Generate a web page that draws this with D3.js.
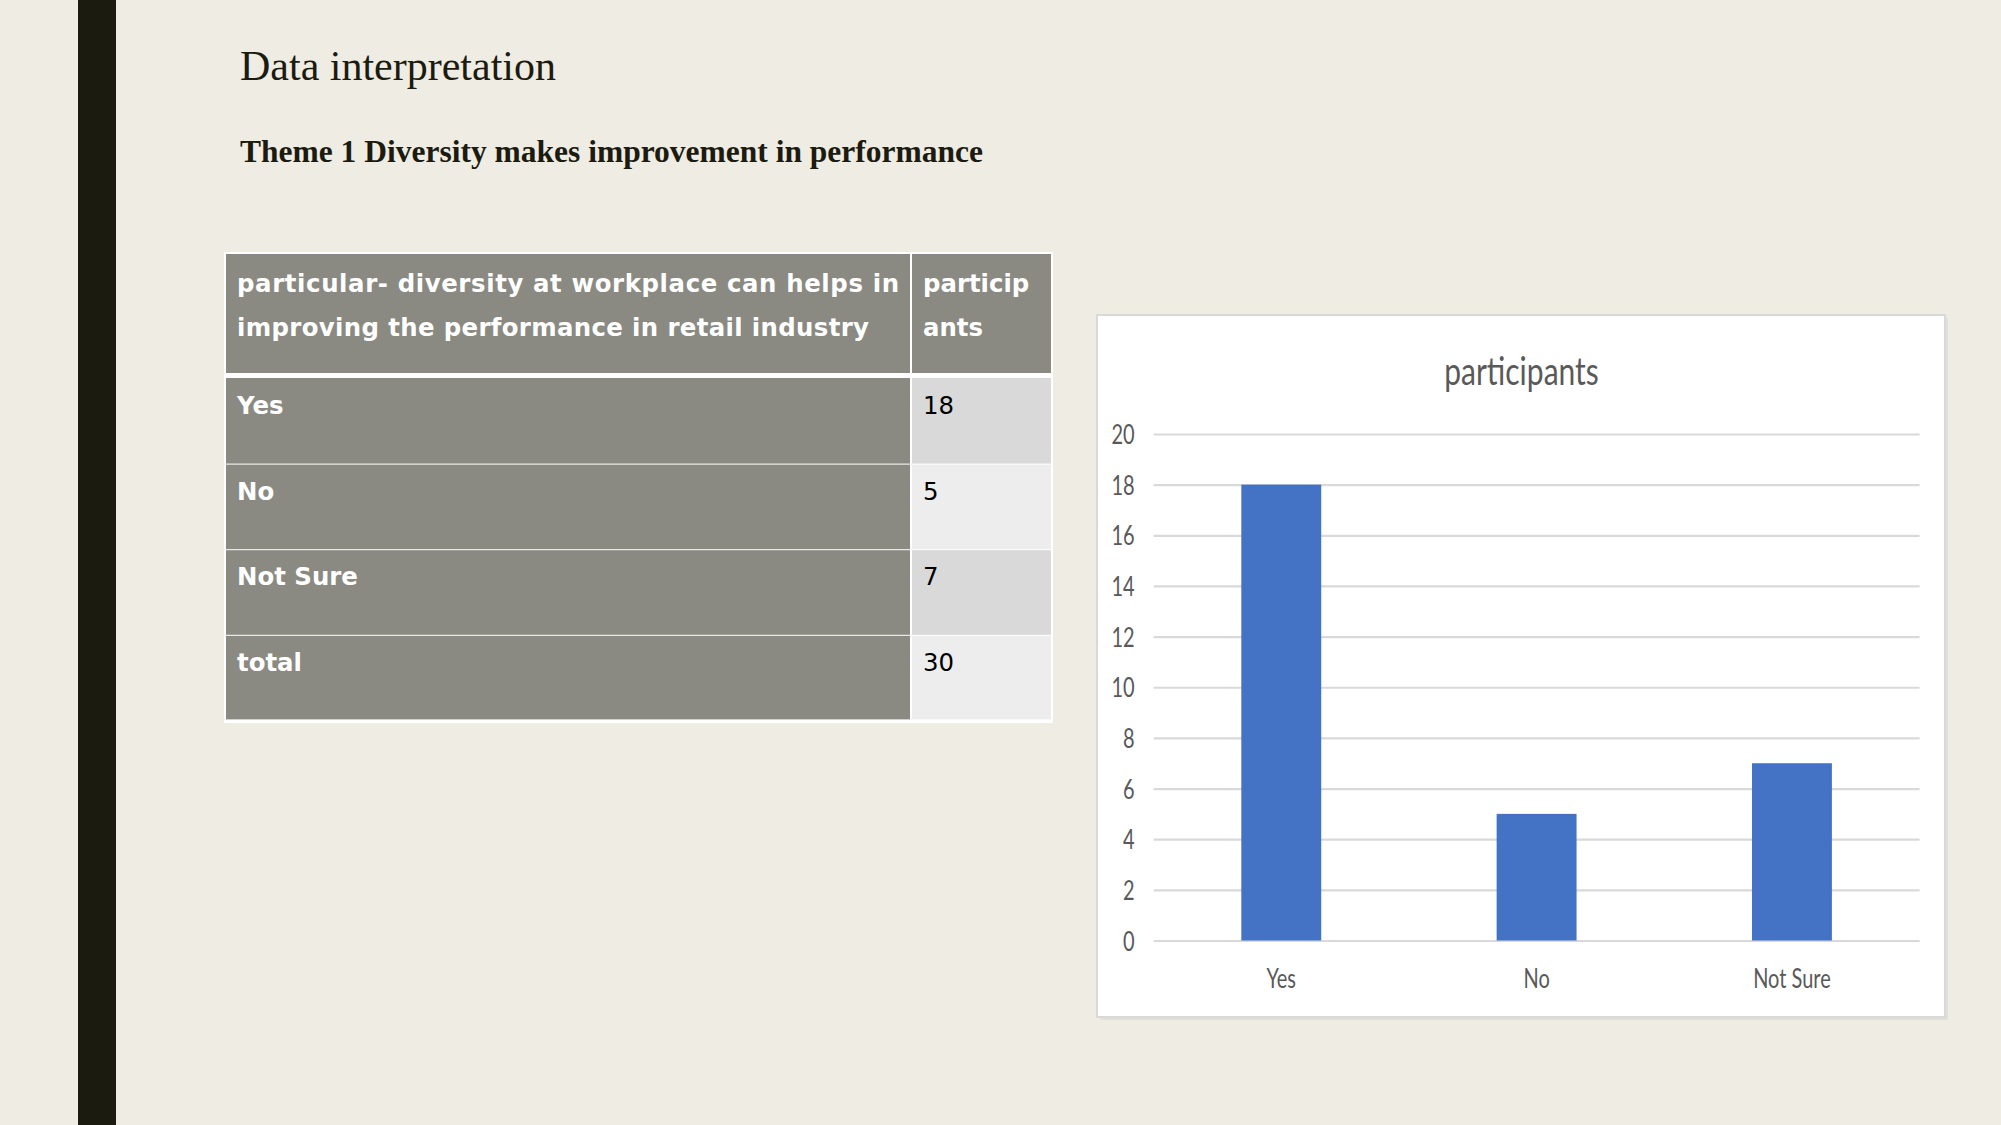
<!DOCTYPE html>
<html><head><meta charset="utf-8">
<script src="https://cdn.jsdelivr.net/npm/d3@7"></script>
<style>html,body{margin:0;padding:0;background:#efece4;overflow:hidden} svg{display:block}</style>
</head><body>
<svg id="c" width="2001" height="1125"></svg>
<script>
// ---- data ----
const categories = ["Yes", "No", "Not Sure"];
const participants = [18, 5, 7];
const yTickValues = [0, 2, 4, 6, 8, 10, 12, 14, 16, 18, 20];
const chartTitle = "participants";
const tableLabels = ["Yes", "No", "Not Sure", "total"];
const tableValues = [18, 5, 7, 30];
const headerLines = ["particular- diversity at workplace can helps in", "improving the performance in retail industry"];
const headerValueLines = ["particip", "ants"];
const slideTitle = "Data interpretation";
const slideSubtitle = "Theme 1 Diversity makes improvement in performance";

const svg = d3.select("#c");
svg.append("rect").attr("width", 2001).attr("height", 1125).attr("fill", "#efece4");
svg.append("rect").attr("x", 78).attr("y", 0).attr("width", 38).attr("height", 1125).attr("fill", "#1c1b10");

svg.append("text").attr("x", 240).attr("y", 80)
  .attr("font-family", "'Liberation Serif','Times New Roman',serif").attr("font-size", 43)
  .attr("fill", "#1c1b10").attr("textLength", 316).attr("lengthAdjust", "spacingAndGlyphs").text(slideTitle);
svg.append("text").attr("x", 240).attr("y", 162)
  .attr("font-family", "'Liberation Serif','Times New Roman',serif").attr("font-size", 32).attr("font-weight", "bold")
  .attr("fill", "#1c1b10").attr("textLength", 743).attr("lengthAdjust", "spacingAndGlyphs").text(slideSubtitle);

// ---- table ----
const T = {x0: 226, x1: 910, x2: 912, x3: 1051, top: 254, headBottom: 373, rowTop: 378, rowH: 85.6};
const FS = 24.4;
const tg = svg.append("g");
tg.append("rect").attr("x", T.x0 - 2).attr("y", T.top - 2).attr("width", T.x3 - T.x0 + 4).attr("height", 721 - T.top + 4).attr("fill", "#ffffff");
tg.append("rect").attr("x", T.x0).attr("y", T.top).attr("width", T.x1 - T.x0).attr("height", T.headBottom - T.top).attr("fill", "#8a8a83");
tg.append("rect").attr("x", T.x2).attr("y", T.top).attr("width", T.x3 - T.x2).attr("height", T.headBottom - T.top).attr("fill", "#8a8a83");
const font = "'DejaVu Sans', Verdana, sans-serif";
headerLines.forEach((l, i) => {
  tg.append("text").attr("x", 237).attr("y", 292 + i * 44).attr("font-family", font).attr("font-weight", "bold")
    .attr("font-size", FS).attr("fill", "#ffffff")
    .attr("textLength", i === 0 ? 662 : 632).attr("lengthAdjust", "spacing").text(l);
});
headerValueLines.forEach((l, i) => {
  tg.append("text").attr("x", 923).attr("y", 292 + i * 44).attr("font-family", font).attr("font-weight", "bold")
    .attr("font-size", FS).attr("fill", "#ffffff").text(l);
});
const rows = tg.selectAll("g.row").data(tableLabels.map((l, i) => ({l, v: tableValues[i], i})))
  .join("g").attr("class", "row");
rows.append("rect").attr("x", T.x0).attr("y", d => T.rowTop + d.i * T.rowH + (d.i ? 1 : 0))
  .attr("width", T.x1 - T.x0).attr("height", d => T.rowH - (d.i ? 1 : 0) - (d.i === 3 ? 1 : 0)).attr("fill", "#8a8a83");
rows.append("rect").attr("x", T.x2).attr("y", d => T.rowTop + d.i * T.rowH + (d.i ? 1 : 0))
  .attr("width", T.x3 - T.x2).attr("height", d => T.rowH - (d.i ? 1 : 0) - (d.i === 3 ? 1 : 0))
  .attr("fill", d => d.i % 2 === 0 ? "#d9d9d9" : "#ededed");
rows.append("text").attr("x", 237).attr("y", d => T.rowTop + d.i * T.rowH + 36)
  .attr("font-family", font).attr("font-weight", "bold").attr("font-size", FS).attr("fill", "#ffffff").text(d => d.l);
rows.append("text").attr("x", 923).attr("y", d => T.rowTop + d.i * T.rowH + 36)
  .attr("font-family", font).attr("font-size", FS).attr("fill", "#000000").text(d => d.v);

// ---- chart ----
const P = {x: 1097, y: 315, w: 848, h: 702};
svg.append("rect").attr("x", P.x + 3).attr("y", P.y + 3).attr("width", P.w).attr("height", P.h).attr("fill", "#e2dfd8");
svg.append("rect").attr("x", P.x).attr("y", P.y).attr("width", P.w).attr("height", P.h)
  .attr("fill", "#ffffff").attr("stroke", "#d9d9d9").attr("stroke-width", 2);

const plotL = 1153.6, plotR = 1919.6;
const x = d3.scaleBand().domain(categories).range([plotL, plotR]).paddingInner(0.687).paddingOuter(0.3435);
const y = d3.scaleLinear().domain([0, 20]).range([940.5, 434]);
const cfont = "Lato, Carlito, 'Open Sans', sans-serif";
const SY = 1.33;

const yAxis = svg.append("g").attr("transform", `translate(${plotL},0)`)
  .call(d3.axisLeft(y).tickValues(yTickValues).tickSize(-(plotR - plotL)).tickPadding(19));
yAxis.select(".domain").remove();
yAxis.selectAll(".tick line").attr("stroke", "#d9d9d9").attr("stroke-width", 2.2);
yAxis.selectAll(".tick text").attr("font-family", cfont).attr("font-size", 20).attr("fill", "#595959")
  .attr("dy", "0.36em").attr("transform", `scale(1,${SY})`);

svg.append("g").selectAll("rect").data(categories.map((c, i) => ({c, v: participants[i]})))
  .join("rect").attr("x", d => x(d.c)).attr("width", x.bandwidth())
  .attr("y", d => y(d.v)).attr("height", d => y(0) - y(d.v)).attr("fill", "#4472c4");

const xAxis = svg.append("g").attr("transform", `translate(0,${y(0)})`)
  .call(d3.axisBottom(x).tickSize(0));
xAxis.select(".domain").remove();
xAxis.selectAll(".tick text").attr("font-family", cfont).attr("font-size", 20).attr("fill", "#595959")
  .attr("y", 47.5 / SY).attr("dy", "0").attr("transform", `scale(1,${SY})`);

svg.append("text").attr("transform", `translate(1521.5,385) scale(1,1.3)`)
  .attr("text-anchor", "middle").attr("font-family", cfont).attr("font-size", 30).attr("fill", "#595959")
  .text(chartTitle);
</script>
</body></html>
